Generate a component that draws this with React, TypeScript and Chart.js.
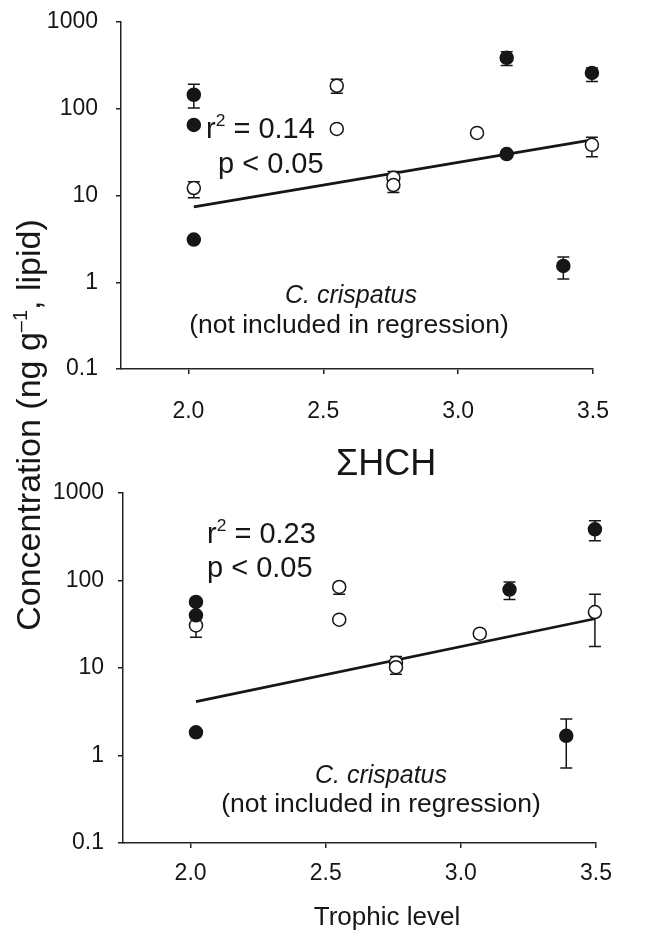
import React, { useEffect, useRef } from 'react';
import { Chart, registerables } from 'chart.js';
Chart.register(...registerables);

const FONT = "'Liberation Sans', Arial, Helvetica, sans-serif";
const INK = '#161616';

const xTicks = [2.0, 2.5, 3.0, 3.5];
const yTicks = [0.1, 1, 10, 100, 1000];

// ---- top panel ----
const topFilledX = [2.02, 2.02, 2.02, 3.18, 3.18, 3.39, 3.496];
const topFilledY = [145, 65, 3.1, 386, 30, 1.54, 259];
const topFilledLo = [102, null, null, 315, null, 1.09, 206];
const topFilledHi = [192, null, null, 453, null, 1.96, 294];
const topOpenX = [2.02, 2.55, 2.55, 2.76, 2.76, 3.07, 3.496];
const topOpenY = [12.2, 184, 58.6, 16, 13.2, 52.7, 38.4];
const topOpenLo = [9.4, 151, null, 14, 10.8, null, 28];
const topOpenHi = [14.4, 219, null, 18.9, 15, null, 47];
const topRegX = [2.02, 3.496];
const topRegY = [7.4, 43.8];

// ---- bottom panel (ΣHCH) ----
const botFilledX = [2.02, 2.02, 2.02, 3.18, 3.39, 3.496];
const botFilledY = [56.8, 40, 1.84, 78.8, 1.68, 384];
const botFilledLo = [null, null, null, 60.5, 0.72, 284];
const botFilledHi = [null, null, null, 96, 2.62, 482];
const botOpenX = [2.02, 2.55, 2.55, 2.76, 2.76, 3.07, 3.496];
const botOpenY = [30.7, 84.4, 35.7, 11.5, 10.2, 24.7, 43.6];
const botOpenLo = [22.5, 69.5, null, 9.5, 8.5, null, 17.6];
const botOpenHi = [38, 93, null, 13.5, 12, null, 69.5];
const botRegX = [2.02, 3.496];
const botRegY = [4.13, 36.6];

const toPts = (xs: number[], ys: number[]) => xs.map((x, i) => ({ x, y: ys[i] }));

const errorBarPlugin = {
  id: 'errorBars',
  beforeDatasetsDraw(chart: any) {
    const ctx = chart.ctx;
    const xs = chart.scales.x;
    const ys = chart.scales.y;
    chart.data.datasets.forEach((ds: any) => {
      if (!ds.errLo) return;
      ds.data.forEach((p: any, i: number) => {
        const lo = ds.errLo[i];
        const hi = ds.errHi[i];
        if (lo == null || hi == null) return;
        const x = xs.getPixelForValue(p.x);
        const y1 = ys.getPixelForValue(lo);
        const y2 = ys.getPixelForValue(hi);
        ctx.save();
        ctx.strokeStyle = INK;
        ctx.lineWidth = 1.5;
        ctx.beginPath();
        ctx.moveTo(x, y1);
        ctx.lineTo(x, y2);
        ctx.moveTo(x - 6, y1);
        ctx.lineTo(x + 6, y1);
        ctx.moveTo(x - 6, y2);
        ctx.lineTo(x + 6, y2);
        ctx.stroke();
        ctx.restore();
      });
    });
  },
};

const textPlugin = {
  id: 'panelText',
  afterDraw(chart: any) {
    const items = chart.options.plugins.panelText?.items || [];
    const ctx = chart.ctx;
    items.forEach((it: any) => {
      ctx.save();
      ctx.fillStyle = INK;
      ctx.textBaseline = 'alphabetic';
      const f = (size: number) => `${it.italic ? 'italic ' : ''}${size}px ${FONT}`;
      const parts = it.parts || [{ t: it.text }];
      let total = 0;
      parts.forEach((p: any) => {
        ctx.font = f(p.sup ? it.size * 0.6 : it.size);
        total += ctx.measureText(p.t).width;
      });
      let x = it.x;
      if (it.align === 'center') x -= total / 2;
      parts.forEach((p: any) => {
        ctx.font = f(p.sup ? it.size * 0.6 : it.size);
        ctx.textAlign = 'left';
        ctx.fillText(p.t, x, p.sup ? it.y - it.size * 0.42 : it.y);
        x += ctx.measureText(p.t).width;
      });
      ctx.restore();
    });
  },
};

function makeConfig(s: any) {
  return {
    type: 'scatter',
    data: {
      datasets: [
        {
          type: 'line',
          data: toPts(s.regX, s.regY),
          borderColor: INK,
          borderWidth: 2.6,
          pointRadius: 0,
          fill: false,
          clip: false,
          order: 3,
        },
        {
          data: toPts(s.openX, s.openY),
          errLo: s.openLo,
          errHi: s.openHi,
          pointRadius: 6.5,
          pointBorderWidth: 1.5,
          backgroundColor: '#ffffff',
          borderColor: INK,
          clip: false,
          order: 2,
        },
        {
          data: toPts(s.filledX, s.filledY),
          errLo: s.filledLo,
          errHi: s.filledHi,
          pointRadius: 6.5,
          pointBorderWidth: 1.5,
          backgroundColor: INK,
          borderColor: INK,
          clip: false,
          order: 1,
        },
      ],
    },
    options: {
      responsive: false,
      animation: false,
      events: [],
      layout: { padding: { left: 0, right: s.padRight, top: s.padTop, bottom: 0 } },
      plugins: {
        legend: { display: false },
        tooltip: { enabled: false },
        title: { display: false },
        panelText: { items: s.texts },
      },
      scales: {
        x: {
          type: 'linear',
          min: 1.75,
          max: 3.5,
          afterBuildTicks: (sc: any) => {
            sc.ticks = xTicks.map((v) => ({ value: v }));
          },
          afterFit: (sc: any) => {
            sc.height = s.xH;
            sc.paddingLeft = 0;
            sc.paddingRight = 0;
          },
          ticks: {
            callback: (v: any) => Number(v).toFixed(1),
            font: { family: FONT, size: 23 },
            color: INK,
            padding: s.xPad,
            maxRotation: 0,
            autoSkip: false,
          },
          grid: { display: true, drawOnChartArea: false, drawTicks: true, tickLength: 5, color: '#222', lineWidth: 1.5 },
          border: { display: true, color: '#222', width: 1.5 },
        },
        y: {
          type: 'logarithmic',
          min: 0.1,
          max: 1000,
          afterBuildTicks: (sc: any) => {
            sc.ticks = yTicks.map((v) => ({ value: v }));
          },
          afterFit: (sc: any) => {
            sc.width = s.yW;
            sc.paddingTop = 0;
            sc.paddingBottom = 0;
          },
          ticks: {
            callback: (v: any) => String(v),
            font: { family: FONT, size: 23 },
            color: INK,
            padding: s.yPad,
            autoSkip: false,
          },
          grid: { display: true, drawOnChartArea: false, drawTicks: true, tickLength: 5, color: '#222', lineWidth: 1.5 },
          border: { display: true, color: '#222', width: 1.5 },
        },
      },
    },
    plugins: [errorBarPlugin, textPlugin],
  };
}

const topSpec = {
  filledX: topFilledX, filledY: topFilledY, filledLo: topFilledLo, filledHi: topFilledHi,
  openX: topOpenX, openY: topOpenY, openLo: topOpenLo, openHi: topOpenHi,
  regX: topRegX, regY: topRegY,
  padRight: 58, padTop: 22, yW: 121, xH: 71, xPad: 24, yPad: 18,
  texts: [
    { parts: [{ t: 'r' }, { t: '2', sup: true }, { t: ' = 0.14' }], x: 206, y: 138, size: 29 },
    { text: 'p < 0.05', x: 218, y: 173, size: 29 },
    { text: 'C. crispatus', x: 351, y: 303, size: 25, italic: true, align: 'center' },
    { text: '(not included in regression)', x: 349, y: 333, size: 26.5, align: 'center' },
  ],
};

const botSpec = {
  filledX: botFilledX, filledY: botFilledY, filledLo: botFilledLo, filledHi: botFilledHi,
  openX: botOpenX, openY: botOpenY, openLo: botOpenLo, openHi: botOpenHi,
  regX: botRegX, regY: botRegY,
  padRight: 55, padTop: 53, yW: 123, xH: 96, xPad: 12, yPad: 14,
  texts: [
    { text: 'ΣHCH', x: 386, y: 35, size: 36, align: 'center' },
    { parts: [{ t: 'r' }, { t: '2', sup: true }, { t: ' = 0.23' }], x: 207, y: 103, size: 29 },
    { text: 'p < 0.05', x: 207, y: 137, size: 29 },
    { text: 'C. crispatus', x: 381, y: 343, size: 25, italic: true, align: 'center' },
    { text: '(not included in regression)', x: 381, y: 372, size: 26.5, align: 'center' },
    { text: 'Trophic level', x: 387, y: 485, size: 26, align: 'center' },
  ],
};

export default function App() {
  const topRef = useRef<HTMLCanvasElement>(null);
  const botRef = useRef<HTMLCanvasElement>(null);
  useEffect(() => {
    const c1 = new Chart(topRef.current as any, makeConfig(topSpec) as any);
    const c2 = new Chart(botRef.current as any, makeConfig(botSpec) as any);
    return () => {
      c1.destroy();
      c2.destroy();
    };
  }, []);
  return (
    <div style={{ position: 'fixed', left: 0, top: 0, width: 651, height: 939, background: '#fff', overflow: 'hidden' }}>
      <canvas ref={topRef} width={651} height={440} style={{ position: 'absolute', left: 0, top: 0, width: 651, height: 440 }} />
      <canvas ref={botRef} width={651} height={499} style={{ position: 'absolute', left: 0, top: 440, width: 651, height: 499 }} />
      <div
        style={{
          position: 'absolute',
          left: 28 - 250,
          top: 425 - 20,
          width: 500,
          height: 40,
          lineHeight: '40px',
          textAlign: 'center',
          transform: 'rotate(-90deg)',
          transformOrigin: '50% 50%',
          fontFamily: FONT,
          fontSize: 34,
          color: INK,
          whiteSpace: 'nowrap',
        }}
      >
        Concentration (ng g<span style={{ fontSize: 20, position: 'relative', top: -13 }}>–1</span>, lipid)
      </div>
    </div>
  );
}
